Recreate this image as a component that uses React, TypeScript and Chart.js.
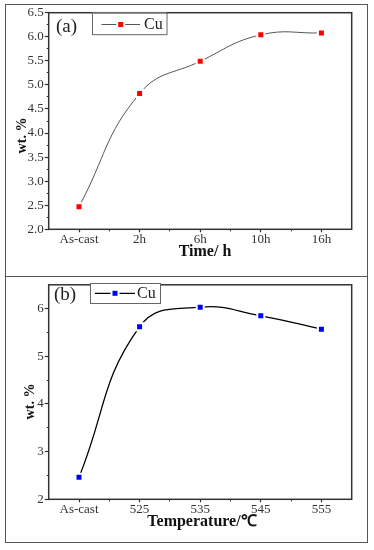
import React, { useEffect, useRef } from 'react';
import { Chart, registerables } from 'chart.js';

Chart.register(...registerables);

// ---------- data ----------
const timeLabels = ['As-cast', '2h', '6h', '10h', '16h'];
const cuByTime = [2.47, 4.82, 5.49, 6.04, 6.08];
const timeYTicks = [2.0, 2.5, 3.0, 3.5, 4.0, 4.5, 5.0, 5.5, 6.0, 6.5];
const timeYMinor = [2.25, 2.75, 3.25, 3.75, 4.25, 4.75, 5.25, 5.75, 6.25];

const tempLabels = ['As-cast', '525', '535', '545', '555'];
const cuByTemp = [2.46, 5.62, 6.03, 5.85, 5.57];
const tempYTicks = [2, 3, 4, 5, 6];
const tempYMinor = [2.5, 3.5, 4.5, 5.5];

const xMinorTicks = [0.5, 1.5, 2.5, 3.5];
const seriesName = 'Cu';

// ---------- layout constants ----------
const W = 374;
const AREA_LEFT = 48.7;
const AREA_RIGHT = 351.7;
const X_AXIS_H = 20;
const SERIF = '"Liberation Serif", "Times New Roman", serif';
const FRAME = '#333';

const decorPlugin = {
  id: 'decor',
  afterDraw(chart: any, _args: any, o: any) {
    const { ctx, chartArea: a } = chart;
    ctx.save();
    // plot frame
    ctx.strokeStyle = FRAME;
    ctx.lineWidth = 1.5;
    ctx.strokeRect(a.left, a.top, a.right - a.left, a.bottom - a.top);

    // panel tag
    ctx.fillStyle = '#222';
    ctx.font = `19px ${SERIF}`;
    ctx.textBaseline = 'middle';
    ctx.textAlign = 'left';
    ctx.fillText(o.tag, o.tagX, o.tagY);

    // legend
    const L = o.legend;
    ctx.fillStyle = '#fff';
    ctx.fillRect(L.x, L.y, L.w, L.h);
    ctx.strokeStyle = '#666';
    ctx.lineWidth = 1;
    ctx.strokeRect(L.x + 0.5, L.y + 0.5, L.w, L.h);
    ctx.strokeStyle = o.lineColor;
    ctx.lineWidth = o.lineWidth;
    ctx.beginPath();
    ctx.moveTo(L.lineX1, L.cy);
    ctx.lineTo(L.mx - 4.5, L.cy);
    ctx.moveTo(L.mx + 4.5, L.cy);
    ctx.lineTo(L.lineX2, L.cy);
    ctx.stroke();
    ctx.fillStyle = o.markerColor;
    ctx.fillRect(L.mx - 2.5, L.cy - 2.5, 5, 5);
    ctx.fillStyle = '#222';
    ctx.font = `16px ${SERIF}`;
    ctx.textBaseline = 'middle';
    ctx.fillText(o.seriesName, L.textX, L.cy + 0.5);

    // axis titles
    ctx.fillStyle = '#111';
    ctx.font = `bold 16px ${SERIF}`;
    ctx.textAlign = 'center';
    ctx.fillText(o.xTitle, o.xTitleX, o.xTitleY);

    ctx.save();
    ctx.translate(o.yTitleX, o.yTitleY);
    ctx.rotate(-Math.PI / 2);
    ctx.font = `bold 14px ${SERIF}`;
    ctx.fillText(o.yTitle, 0, 0);
    ctx.restore();

    ctx.restore();
  },
};

type PanelProps = {
  height: number;
  areaTop: number;
  areaBottom: number;
  labels: string[];
  values: number[];
  yTicks: number[];
  yMinor: number[];
  yDecimals: number;
  markerColor: string;
  lineColor: string;
  lineWidth: number;
  decor: any;
};

function Panel(p: PanelProps) {
  const ref = useRef<HTMLCanvasElement | null>(null);
  useEffect(() => {
    if (!ref.current) return;
    const tickFont = { family: SERIF, size: 13 };
    const chart = new Chart(ref.current, {
      type: 'line',
      data: {
        datasets: [
          {
            label: seriesName,
            data: p.values.map((v, i) => ({ x: i, y: v })),
            borderColor: p.lineColor,
            borderWidth: p.lineWidth,
            tension: 0.45,
            pointStyle: 'rect',
            pointRadius: 4.95,
            pointBorderWidth: 2,
            pointBackgroundColor: p.markerColor,
            pointBorderColor: '#ffffff',
            fill: false,
          },
        ],
      },
      options: {
        animation: false,
        responsive: false,
        maintainAspectRatio: false,
        layout: {
          padding: {
            left: 0,
            right: W - AREA_RIGHT,
            top: p.areaTop,
            bottom: p.height - p.areaBottom - X_AXIS_H,
          },
        },
        plugins: {
          legend: { display: false },
          tooltip: { enabled: false },
          decor: p.decor,
        } as any,
        scales: {
          x: {
            type: 'linear',
            position: 'bottom',
            weight: 1,
            min: -0.5,
            max: 4.5,
            afterBuildTicks: (s: any) => {
              s.ticks = p.labels.map((_, i) => ({ value: i }));
            },
            afterFit: (s: any) => {
              s.height = X_AXIS_H;
            },
            ticks: {
              autoSkip: false,
              maxRotation: 0,
              padding: -0.5,
              color: '#333',
              font: tickFont,
              callback: (v: any) => p.labels[Math.round(Number(v))] ?? '',
            },
            grid: { drawOnChartArea: false, tickLength: 3, tickColor: FRAME, tickWidth: 1.2 },
            border: { display: false },
          },
          xMinor: {
            type: 'linear',
            position: 'bottom',
            weight: 0,
            min: -0.5,
            max: 4.5,
            afterBuildTicks: (s: any) => {
              s.ticks = xMinorTicks.map((v) => ({ value: v }));
            },
            afterFit: (s: any) => {
              s.height = 0;
            },
            ticks: { display: false },
            grid: { drawOnChartArea: false, tickLength: 2, tickColor: FRAME, tickWidth: 1 },
            border: { display: false },
          },
          y: {
            type: 'linear',
            position: 'left',
            weight: 1,
            min: 2,
            max: 6.5,
            afterBuildTicks: (s: any) => {
              s.ticks = p.yTicks.map((v) => ({ value: v }));
            },
            afterFit: (s: any) => {
              s.width = AREA_LEFT;
            },
            ticks: {
              padding: 1,
              color: '#333',
              font: tickFont,
              callback: (v: any) => Number(v).toFixed(p.yDecimals),
            },
            grid: { drawOnChartArea: false, tickLength: 4, tickColor: FRAME, tickWidth: 1.2 },
            border: { display: false },
          },
          yMinor: {
            type: 'linear',
            position: 'left',
            weight: 0,
            min: 2,
            max: 6.5,
            afterBuildTicks: (s: any) => {
              s.ticks = p.yMinor.map((v) => ({ value: v }));
            },
            afterFit: (s: any) => {
              s.width = 0;
            },
            ticks: { display: false },
            grid: { drawOnChartArea: false, tickLength: 2, tickColor: FRAME, tickWidth: 1 },
            border: { display: false },
          },
        },
      } as any,
      plugins: [decorPlugin as any],
    });
    return () => chart.destroy();
  }, []);
  return (
    <canvas
      ref={ref}
      width={W}
      height={p.height}
      style={{ display: 'block', width: W, height: p.height }}
    />
  );
}

export default function App() {
  return (
    <div style={{ position: 'absolute', left: 0, top: 0, width: W, height: 550, background: '#fff' }}>
      <div
        style={{
          position: 'absolute',
          left: 5,
          top: 4,
          width: 362.5,
          height: 539,
          boxSizing: 'border-box',
          border: '1.5px solid #555',
        }}
      />
      <div style={{ position: 'absolute', left: 5, top: 275.5, width: 362.5, height: 1.5, background: '#555' }} />
      <div style={{ position: 'absolute', left: 0, top: 0 }}>
        <Panel
          height={276}
          areaTop={12.7}
          areaBottom={229.3}
          labels={timeLabels}
          values={cuByTime}
          yTicks={timeYTicks}
          yMinor={timeYMinor}
          yDecimals={1}
          markerColor="#ff0000"
          lineColor="#555"
          lineWidth={1}
          decor={{
            tag: '(a)',
            tagX: 56,
            tagY: 27.5,
            seriesName,
            markerColor: '#ff0000',
            lineColor: '#555',
            lineWidth: 1,
            legend: { x: 92, y: 12.7, w: 74.5, h: 21.5, cy: 24.5, lineX1: 101.5, lineX2: 140, mx: 120.7, textX: 144 },
            xTitle: 'Time/ h',
            xTitleX: 205,
            xTitleY: 251.5,
            yTitle: 'wt. %',
            yTitleX: 22.5,
            yTitleY: 135.5,
          }}
        />
      </div>
      <div style={{ position: 'absolute', left: 0, top: 276 }}>
        <Panel
          height={274}
          areaTop={6.7}
          areaBottom={223.3}
          labels={tempLabels}
          values={cuByTemp}
          yTicks={tempYTicks}
          yMinor={tempYMinor}
          yDecimals={0}
          markerColor="#0000ff"
          lineColor="#000"
          lineWidth={1.3}
          decor={{
            tag: '(b)',
            tagX: 54,
            tagY: 19,
            seriesName,
            markerColor: '#0000ff',
            lineColor: '#000',
            lineWidth: 1.2,
            legend: { x: 90, y: 7, w: 70, h: 20, cy: 17.3, lineX1: 95, lineX2: 135, mx: 115, textX: 137 },
            xTitle: 'Temperature/℃',
            xTitleX: 202,
            xTitleY: 245.5,
            yTitle: 'wt. %',
            yTitleX: 30,
            yTitleY: 125.5,
          }}
        />
      </div>
    </div>
  );
}
